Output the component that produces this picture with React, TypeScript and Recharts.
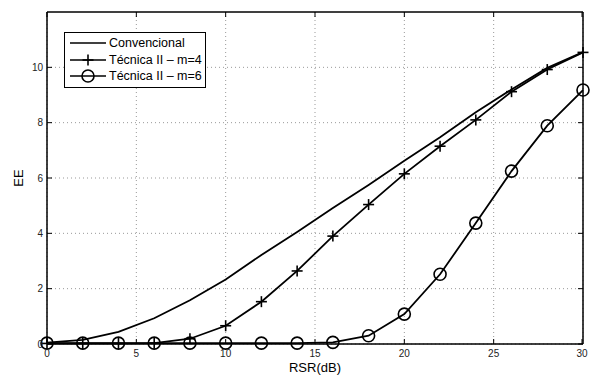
import { LineChart, Line, XAxis, YAxis, CartesianGrid, Legend, ReferenceArea } from "recharts";

// RSR (dB) sample points
const RSR = [0, 2, 4, 6, 8, 10, 12, 14, 16, 18, 20, 22, 24, 26, 28, 30];
const CONVENCIONAL = [0.05, 0.15, 0.44, 0.93, 1.58, 2.33, 3.22, 4.05, 4.92, 5.75, 6.62, 7.47, 8.38, 9.2, 9.98, 10.55];
const TECNICA_M4 = [0.02, 0.02, 0.02, 0.03, 0.19, 0.66, 1.53, 2.64, 3.9, 5.04, 6.15, 7.15, 8.1, 9.12, 9.92, 10.54];
const TECNICA_M6 = [0.03, 0.03, 0.03, 0.03, 0.03, 0.03, 0.03, 0.03, 0.06, 0.3, 1.08, 2.52, 4.37, 6.25, 7.89, 9.18];

const X_TICKS = [0, 5, 10, 15, 20, 25, 30];
const Y_TICKS = [0, 2, 4, 6, 8, 10];
const X_DOMAIN = [0, 30];
const Y_DOMAIN = [0, 12];

const data = RSR.map((x, i) => ({
  x,
  conv: CONVENCIONAL[i],
  m4: TECNICA_M4[i],
  m6: TECNICA_M6[i],
}));

const FONT = "'Liberation Sans', Arial, Helvetica, sans-serif";
const TICK_LEN = 5;

const PlusDot = (props: any) => {
  const { cx, cy, index } = props;
  if (cx == null || cy == null) return <g key={index} />;
  return (
    <g key={index}>
      <line x1={cx - 5.5} y1={cy} x2={cx + 5.5} y2={cy} stroke="#000" strokeWidth={1.6} />
      <line x1={cx} y1={cy - 5.5} x2={cx} y2={cy + 5.5} stroke="#000" strokeWidth={1.6} />
    </g>
  );
};

const CircleDot = (props: any) => {
  const { cx, cy, index } = props;
  if (cx == null || cy == null) return <g key={index} />;
  return <circle key={index} cx={cx} cy={cy} r={6} fill="none" stroke="#000" strokeWidth={1.6} />;
};

const BottomTick = ({ x, y, payload }: any) => (
  <g>
    <line x1={x} y1={y} x2={x} y2={y - TICK_LEN} stroke="#000" />
    <text x={x} y={y + 13} textAnchor="middle" fontSize={10} fontFamily={FONT} fill="#222">
      {payload.value}
    </text>
  </g>
);

const TopTick = ({ x, y }: any) => <line x1={x} y1={y} x2={x} y2={y + TICK_LEN} stroke="#000" />;

const LeftTick = ({ x, y, payload }: any) => (
  <g>
    <line x1={x} y1={y} x2={x + TICK_LEN} y2={y} stroke="#000" />
    <text x={x - 4} y={y + 3.5} textAnchor="end" fontSize={10} fontFamily={FONT} fill="#222">
      {payload.value}
    </text>
  </g>
);

const RightTick = ({ x, y }: any) => <line x1={x} y1={y} x2={x - TICK_LEN} y2={y} stroke="#000" />;

const EELabel = ({ viewBox }: any) => {
  const cx = viewBox.x + 18;
  const cy = viewBox.y + viewBox.height / 2;
  return (
    <text x={cx} y={cy} transform={`rotate(-90 ${cx} ${cy})`} textAnchor="middle" dominantBaseline="central"
      fontSize={13} fontFamily={FONT} fill="#000">
      EE
    </text>
  );
};

const RSRLabel = ({ viewBox }: any) => {
  const cx = viewBox.x + viewBox.width / 2;
  const cy = viewBox.y + 28;
  return (
    <text x={cx} y={cy} textAnchor="middle" fontSize={13} fontFamily={FONT} fill="#000">
      RSR(dB)
    </text>
  );
};

const LEGEND_ITEMS = [
  { label: "Convencional", marker: "none" },
  { label: "Técnica II – m=4", marker: "plus" },
  { label: "Técnica II – m=6", marker: "circle" },
];

const LegendBox = () => (
  <div style={{ border: "1px solid #000", background: "#fff", padding: "2px 3px 2px 5px", fontFamily: FONT, fontSize: 12.5 }}>
    {LEGEND_ITEMS.map((it) => (
      <div key={it.label} style={{ display: "flex", alignItems: "center", height: 16.5 }}>
        <svg width={36} height={16} style={{ marginRight: 3 }}>
          <line x1={0} y1={8} x2={36} y2={8} stroke="#000" strokeWidth={1.6} />
          {it.marker === "plus" && (
            <g>
              <line x1={12.5} y1={8} x2={23.5} y2={8} stroke="#000" strokeWidth={1.6} />
              <line x1={18} y1={2.5} x2={18} y2={13.5} stroke="#000" strokeWidth={1.6} />
            </g>
          )}
          {it.marker === "circle" && <circle cx={18} cy={8} r={6} fill="none" stroke="#000" strokeWidth={1.6} />}
        </svg>
        <span style={{ whiteSpace: "nowrap", color: "#000" }}>{it.label}</span>
      </div>
    ))}
  </div>
);

export default function App() {
  return (
    <div style={{ position: "absolute", left: 0, top: 0, width: 590, height: 376, background: "#fff", overflow: "hidden" }}>
      <LineChart width={590} height={376} data={data} margin={{ top: 11, right: 6, bottom: 0, left: 0 }}>
        <CartesianGrid
          xAxisId="bottom"
          yAxisId="left"
          stroke="#999"
          strokeDasharray="1 3"
          verticalValues={X_TICKS}
          horizontalValues={Y_TICKS}
        />
        <XAxis
          xAxisId="bottom"
          dataKey="x"
          type="number"
          domain={X_DOMAIN}
          ticks={X_TICKS}
          height={32}
          tickSize={0}
          tickMargin={0}
          tick={<BottomTick />}
          axisLine={{ stroke: "#000", strokeWidth: 1 }}
          tickLine={false}
          label={<RSRLabel />}
        />
        <XAxis
          xAxisId="top"
          orientation="top"
          dataKey="x"
          type="number"
          domain={X_DOMAIN}
          ticks={X_TICKS}
          height={1}
          tickSize={0}
          tickMargin={0}
          tick={<TopTick />}
          axisLine={{ stroke: "#000" }}
          tickLine={false}
        />
        <YAxis
          yAxisId="left"
          type="number"
          domain={Y_DOMAIN}
          ticks={Y_TICKS}
          width={47}
          tickSize={0}
          tickMargin={0}
          tick={<LeftTick />}
          axisLine={{ stroke: "#000" }}
          tickLine={false}
          label={<EELabel />}
        />
        <YAxis
          yAxisId="right"
          orientation="right"
          type="number"
          domain={Y_DOMAIN}
          ticks={Y_TICKS}
          width={1}
          tickSize={0}
          tickMargin={0}
          tick={<RightTick />}
          axisLine={{ stroke: "#000" }}
          tickLine={false}
        />
        <ReferenceArea
          xAxisId="bottom"
          yAxisId="left"
          x1={X_DOMAIN[0]}
          x2={X_DOMAIN[1]}
          y1={Y_DOMAIN[0]}
          y2={Y_DOMAIN[1]}
          fill="none"
          fillOpacity={0}
          stroke="#000"
          strokeWidth={1}
          ifOverflow="visible"
        />
        <Legend
          layout="horizontal"
          verticalAlign="middle"
          align="center"
          wrapperStyle={{ left: 64, top: 32, width: "auto" }}
          content={<LegendBox />}
        />
        <Line xAxisId="bottom" yAxisId="left" dataKey="conv" stroke="#000" strokeWidth={1.8} dot={false} isAnimationActive={false} />
        <Line xAxisId="bottom" yAxisId="left" dataKey="m4" stroke="#000" strokeWidth={1.8} dot={<PlusDot />} isAnimationActive={false} />
        <Line xAxisId="top" yAxisId="right" dataKey="m6" stroke="#000" strokeWidth={1.8} dot={<CircleDot />} isAnimationActive={false} />
      </LineChart>
    </div>
  );
}
